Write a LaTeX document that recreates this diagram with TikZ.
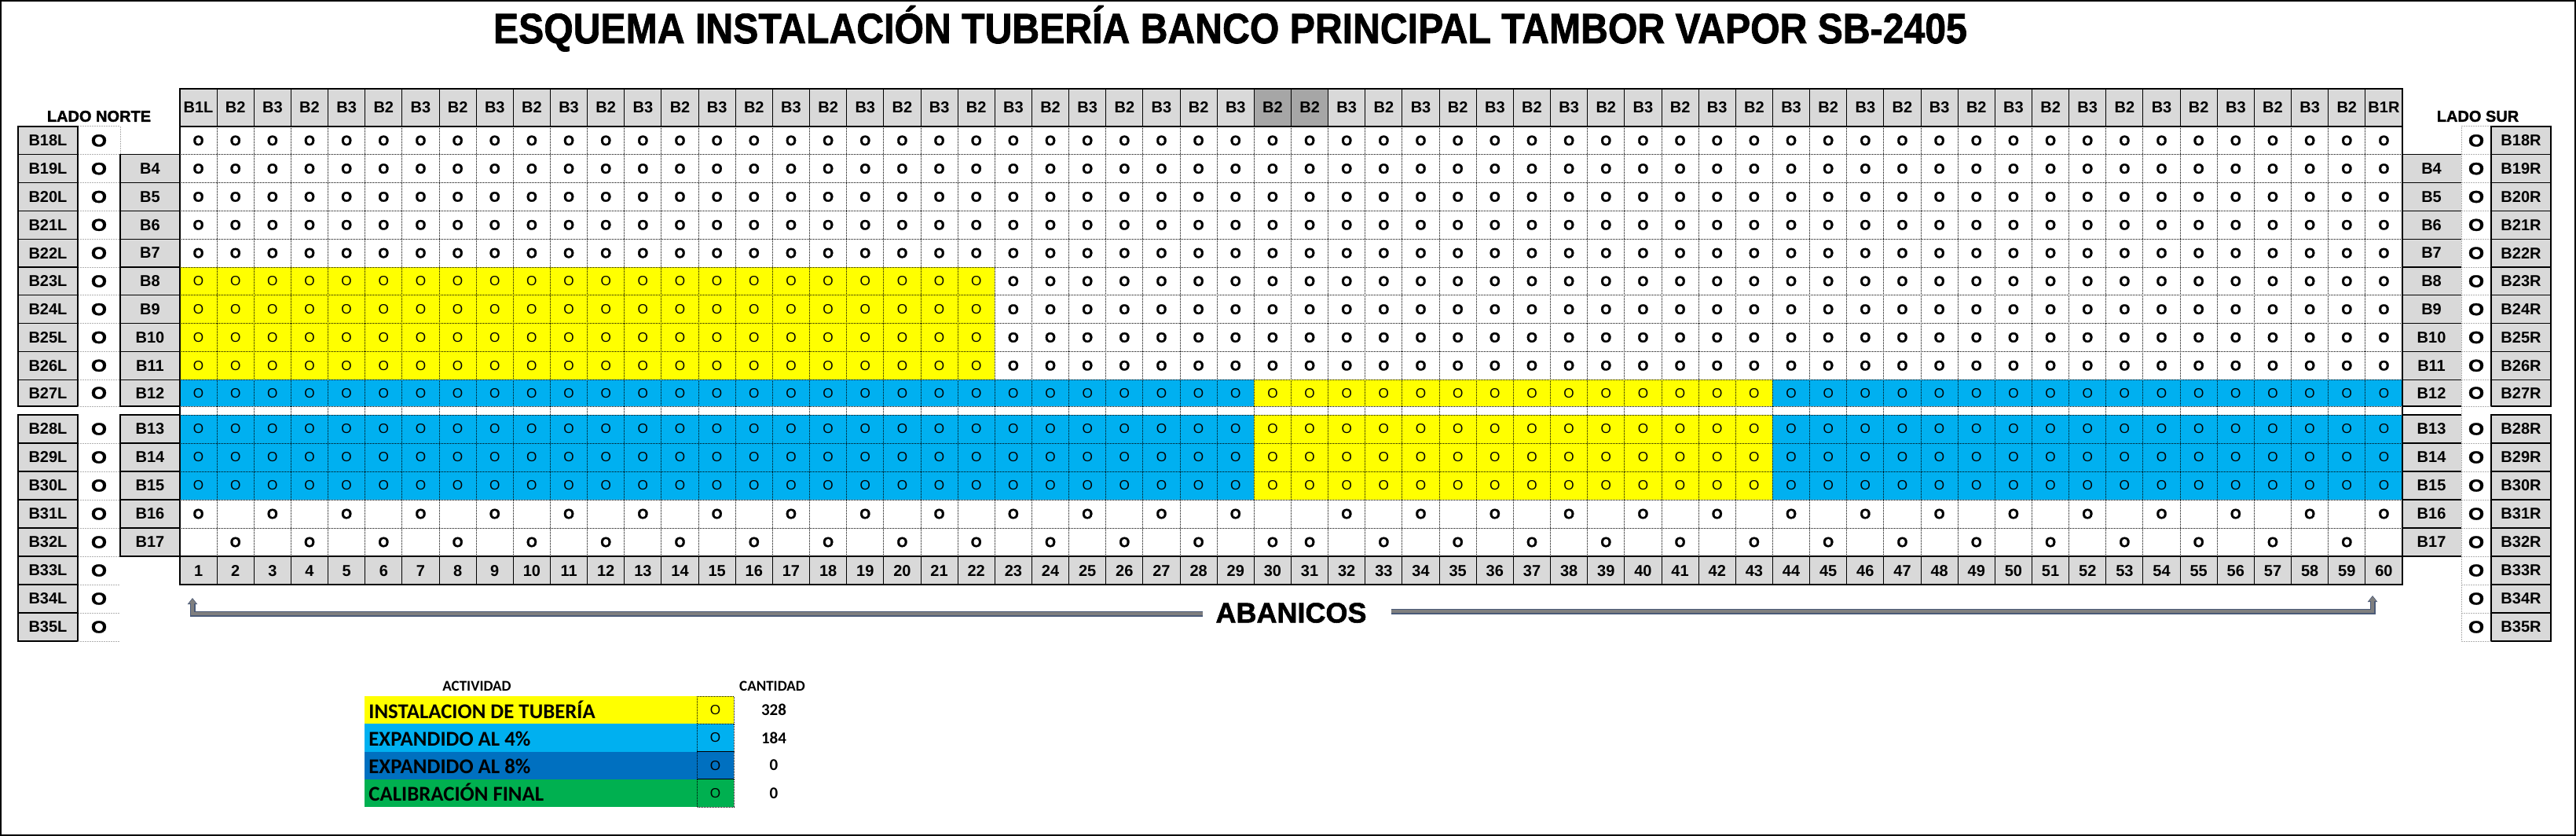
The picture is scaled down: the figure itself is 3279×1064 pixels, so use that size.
\documentclass[tikz,border=0pt]{standalone}
\usepackage{fontspec}
\setmainfont{Liberation Sans}
\newfontfamily\carlito{Carlito}
\newfontfamily\heavyfont[FakeBold=1.5]{Liberation Sans Bold}
\usepackage{graphicx}
\usetikzlibrary{arrows.meta}
\definecolor{hdr}{HTML}{D9D9D9}
\definecolor{hdrdark}{HTML}{A6A6A6}
\definecolor{yel}{HTML}{FFFF00}
\definecolor{lblue}{HTML}{00B0F0}
\definecolor{dblue}{HTML}{0070C0}
\definecolor{grn}{HTML}{00B050}
\definecolor{argray}{HTML}{7F7F7F}
\definecolor{ardark}{HTML}{4A5A78}
\begin{document}
\begin{tikzpicture}[x=0.5pt,y=-0.5pt,
  lbl/.style={font=\bfseries\fontsize{10pt}{12pt}\selectfont,inner sep=0pt},
  ob/.style={font=\heavyfont\fontsize{8.9pt}{10pt}\selectfont,inner sep=0pt},
  ot/.style={font=\fontsize{8.6pt}{10pt}\selectfont,inner sep=0pt},
  obig/.style={font=\heavyfont\fontsize{10.8pt}{12pt}\selectfont,inner sep=0pt},
  dotb/.style={draw=black,line width=0.5pt,dash pattern=on 0.5pt off 0.5pt},
  dotg/.style={draw=black!30,line width=0.5pt,dash pattern=on 1pt off 0.5pt},
  boxline/.style={draw=black,line width=0.6pt},
  bord/.style={draw=black,line width=1.1pt},
  lgtext/.style={anchor=base west,inner sep=0pt,font=\carlito\bfseries\fontsize{13.4pt}{15pt}\selectfont},
  lghead/.style={inner sep=0pt,font=\carlito\bfseries\fontsize{9.5pt}{10pt}\selectfont},
  qty/.style={inner sep=0pt,font=\carlito\bfseries\fontsize{10.5pt}{12pt}\selectfont},
  arrdark/.style={draw=ardark,line width=3.5pt,line join=miter,-{Triangle[width=6pt,length=4pt]}},
  arrgray/.style={draw=argray,line width=2.3pt,line join=miter,shorten >=0.6pt,-{Triangle[width=4.4pt,length=3pt]}}
]
\useasboundingbox (0,0) rectangle (3279,1064);
\fill[white] (0,0) rectangle (3279,1064);
\draw[line width=1pt] (1,1) rectangle (3278,1063);

% title
\node[anchor=base,inner sep=0pt] (title) at (1566,55) {\resizebox{938pt}{\height}{\heavyfont\fontsize{27pt}{30pt}\selectfont ESQUEMA INSTALACIÓN TUBERÍA BANCO PRINCIPAL TAMBOR VAPOR SB-2405}};

% side titles
\node[inner sep=0pt,font=\heavyfont\fontsize{10pt}{12pt}\selectfont] (ladon) at (126,148) {LADO NORTE};
\node[inner sep=0pt,font=\heavyfont\fontsize{10pt}{12pt}\selectfont] (lados) at (3154,148) {LADO SUR};

% coloured cells
\fill[yel] (229,340) rectangle (1266.3,483.2);
\fill[lblue] (229,483.2) rectangle (1596.35,517);
\fill[yel] (1596.35,483.2) rectangle (2256.45,517);
\fill[lblue] (2256.45,483.2) rectangle (3058,517);
\fill[lblue] (229,528) rectangle (1596.35,636);
\fill[yel] (1596.35,528) rectangle (2256.45,636);
\fill[lblue] (2256.45,528) rectangle (3058,636);

% dotted grid
\foreach \y in {196.8,232.6,268.4,304.2,340,375.8,411.6,447.4,483.2,517,528,564,600,636,672}
  \draw[dotb] (229,\y) -- (3058,\y);
\foreach \j in {2,...,60}
  \draw[dotb] ({229+(\j-1)*47.15},161) -- ({229+(\j-1)*47.15},708);

% header and number row
\foreach \j in {1,...,60} {
  \pgfmathsetmacro\cxl{229+(\j-1)*47.15}
  \pgfmathsetmacro\cxr{\cxl+47.15}
  \pgfmathsetmacro\cxc{\cxl+23.575}
  \pgfmathtruncatemacro\pj{mod(\j,2)}
  \def\hfill{hdr}
  \ifnum\j=30 \def\hfill{hdrdark}\fi
  \ifnum\j=31 \def\hfill{hdrdark}\fi
  \ifnum\j=1 \def\hlab{B1L}\else
   \ifnum\j=60 \def\hlab{B1R}\else
    \ifnum\j<30 \ifnum\pj=0 \def\hlab{B2}\else\def\hlab{B3}\fi
    \else
     \ifnum\j<32 \def\hlab{B2}\else
      \ifnum\pj=0 \def\hlab{B3}\else\def\hlab{B2}\fi
     \fi
    \fi
   \fi
  \fi
  \fill[\hfill] (\cxl,113) rectangle (\cxr,161);
  \fill[hdr] (\cxl,708) rectangle (\cxr,744);
  \draw[boxline,line width=0.5pt] (\cxl,113) -- (\cxl,161);
  \draw[boxline,line width=0.5pt] (\cxl,708) -- (\cxl,744);
  \node[lbl] (h-\j) at (\cxc,137) {\hlab};
  \node[lbl] (n-\j) at (\cxc,726.5) {\j};
}

% grid circles
\foreach \i in {1,...,15} {
  \pgfmathsetmacro\rtop{\i<11 ? 161+(\i-1)*35.8 : 528+(\i-11)*36}
  \pgfmathsetmacro\rbot{\i<10 ? \rtop+35.8 : (\i==10 ? 517 : \rtop+36)}
  \pgfmathsetmacro\yc{(\rtop+\rbot)/2}
  \foreach \j in {1,...,60} {
    \pgfmathtruncatemacro\pj{mod(\j,2)}
    \def\sh{0}
    \ifnum\i<14 \def\sh{1}\fi
    \ifnum\i=14
      \ifnum\j<30 \ifnum\pj=1 \def\sh{1}\fi\fi
      \ifnum\j>31 \ifnum\pj=0 \def\sh{1}\fi\fi
    \fi
    \ifnum\i=15
      \ifnum\j<29 \ifnum\pj=0 \def\sh{1}\fi\fi
      \ifnum\j=30 \def\sh{1}\fi
      \ifnum\j=31 \def\sh{1}\fi
      \ifnum\j>32 \ifnum\pj=1 \def\sh{1}\fi\fi
    \fi
    \def\col{0}
    \ifnum\i>5 \ifnum\i<10 \ifnum\j<23 \def\col{1}\fi\fi\fi
    \ifnum\i>9 \ifnum\i<14 \def\col{1}\fi\fi
    \ifnum\sh=1
      \ifnum\col=1
        \node[ot] (g-\i-\j) at ({229+(\j-0.5)*47.15},\yc) {O};
      \else
        \node[ob] (g-\i-\j) at ({229+(\j-0.5)*47.15},\yc) {O};
      \fi
    \fi
  }
}

% side columns
\draw[dotg] (99,161) -- (153,161) -- (153,196.8);
\draw[dotg] (3171,161) -- (3133,161) -- (3133,816);
\foreach \i in {1,...,18} {
  \pgfmathsetmacro\rtop{\i<11 ? 161+(\i-1)*35.8 : 528+(\i-11)*36}
  \pgfmathsetmacro\rbot{\i<10 ? \rtop+35.8 : (\i==10 ? 517 : \rtop+36)}
  \pgfmathsetmacro\yc{(\rtop+\rbot)/2}
  \pgfmathtruncatemacro\bn{17+\i}
  \pgfmathtruncatemacro\bm{2+\i}
  \draw[boxline,fill=hdr] (23,\rtop) rectangle (99,\rbot);
  \node[lbl] (lb-\i) at (61,\yc) {B\bn L};
  \node[obig] (lo-\i) at (126,\yc) {\scalebox{1.2}[1]{O}};
  \draw[dotg] (99,\rbot) -- (153,\rbot);
  \draw[boxline,fill=hdr] (3171,\rtop) rectangle (3247,\rbot);
  \node[lbl] (rb-\i) at (3209,\yc) {B\bn R};
  \node[obig] (ro-\i) at (3152,\yc) {\scalebox{1.2}[1]{O}};
  \draw[dotg] (3133,\rbot) -- (3171,\rbot);
  \ifnum\i>1 \ifnum\i<16
    \draw[boxline,fill=hdr] (153,\rtop) rectangle (229,\rbot);
    \node[lbl] (li-\i) at (191,\yc) {B\bm};
    \fill[hdr] (3058,\rtop) rectangle (3133,\rbot);
    \draw[boxline] (3058,\rtop) -- (3133,\rtop) (3058,\rbot) -- (3133,\rbot);
    \node[lbl] (ri-\i) at (3095,\yc) {B\bm};
  \fi\fi
}

% grid border
\draw[bord] (229,113) rectangle (3058,744);
\draw[bord] (229,161) -- (3058,161);
\draw[bord] (229,708) -- (3058,708);

% ABANICOS arrow
\node[inner sep=0pt,font=\heavyfont\fontsize{18pt}{20pt}\selectfont] (aban) at (1643.5,780) {ABANICOS};
\coordinate (lefttip) at (245,761);
\coordinate (righttip) at (3020,758);
\draw[arrdark] ([xshift=-8pt,yshift=-0.5pt]aban.west) -| (lefttip);
\draw[arrgray] ([xshift=-8pt,yshift=-0.5pt]aban.west) -| (lefttip);
\draw[arrdark] ([xshift=15.5pt,yshift=1pt]aban.east) -| (righttip);
\draw[arrgray] ([xshift=15.5pt,yshift=1pt]aban.east) -| (righttip);

% legend
\node[lghead] (act) at (607,873) {ACTIVIDAD};
\node[lghead] (cant) at (983,873) {CANTIDAD};
\foreach \c/\t/\q [count=\k] in {yel/INSTALACION DE TUBERÍA/328, lblue/EXPANDIDO AL 4\%/184, dblue/EXPANDIDO AL 8\%/0, grn/CALIBRACIÓN FINAL/0} {
  \pgfmathsetmacro\ltop{886+(\k-1)*35.25}
  \fill[\c] (464,\ltop) rectangle (934,\ltop+35.25);
  \draw[dotb] (887,\ltop) rectangle (934,\ltop+35.25);
  \node[lgtext] (lt-\k) at (469,\ltop+28) {\t};
  \node[ot] (lc-\k) at (910.5,\ltop+17.6) {O};
  \node[qty] (lq-\k) at (985,\ltop+17.6) {\q};
}
\end{tikzpicture}
\end{document}
